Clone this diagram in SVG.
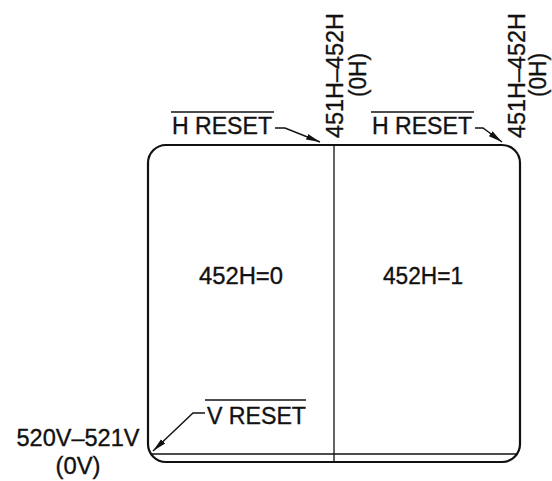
<svg xmlns="http://www.w3.org/2000/svg" width="552" height="481" viewBox="0 0 552 481">
<style>
text{font-family:"Liberation Sans",Arial,sans-serif;font-size:23px;fill:#111;stroke:#111;stroke-width:0.35}
.box{fill:none;stroke:#111;stroke-width:2.2}
.thin{fill:none;stroke:#111;stroke-width:1.3}
.lead{fill:none;stroke:#111;stroke-width:1.4}
.ov{stroke:#111;stroke-width:1.6}
</style>
<defs>
<marker id="ah" markerWidth="16" markerHeight="8" refX="14" refY="4" orient="auto" markerUnits="userSpaceOnUse">
<path d="M0,1 L14,4 L0,7 Z" fill="#111"/>
</marker>
</defs>
<rect width="552" height="481" fill="#fff"/>
<g id="screen">
<rect class="box" x="148" y="145" width="372" height="317" rx="18" ry="18"/>
<line class="thin" x1="334" y1="145" x2="334" y2="462"/>
<line class="thin" x1="151" y1="454" x2="517" y2="454" style="stroke-width:1.6"/>
</g>
<g id="left-half">
<text x="241" y="284" text-anchor="middle" textLength="84" lengthAdjust="spacingAndGlyphs">452H=0</text>
</g>
<g id="right-half">
<text x="423" y="284" text-anchor="middle" textLength="80" lengthAdjust="spacingAndGlyphs">452H=1</text>
</g>
<g id="h-reset-left">
<line class="ov" x1="171" y1="112" x2="274" y2="112"/>
<text x="172" y="134" textLength="100" lengthAdjust="spacingAndGlyphs">H RESET</text>
</g>
<g id="h-reset-right">
<line class="ov" x1="371" y1="112" x2="474" y2="112"/>
<text x="372" y="134" textLength="100" lengthAdjust="spacingAndGlyphs">H RESET</text>
</g>
<g id="label-451-left">
<text transform="translate(343,75.5) rotate(-90)" text-anchor="middle" textLength="125" lengthAdjust="spacingAndGlyphs">451H–452H</text>
<text transform="translate(366,75) rotate(-90)" text-anchor="middle" textLength="44" lengthAdjust="spacingAndGlyphs">(0H)</text>
</g>
<g id="label-451-right">
<text transform="translate(525,75.5) rotate(-90)" text-anchor="middle" textLength="125" lengthAdjust="spacingAndGlyphs">451H–452H</text>
<text transform="translate(546,75) rotate(-90)" text-anchor="middle" textLength="44" lengthAdjust="spacingAndGlyphs">(0H)</text>
</g>
<g id="v-reset">
<line class="ov" x1="205" y1="400" x2="306" y2="400"/>
<text x="207" y="424" textLength="99" lengthAdjust="spacingAndGlyphs">V RESET</text>
</g>
<g id="label-520">
<text x="78" y="446" text-anchor="middle" textLength="123" lengthAdjust="spacingAndGlyphs">520V–521V</text>
<text x="78" y="474" text-anchor="middle" textLength="45" lengthAdjust="spacingAndGlyphs">(0V)</text>
</g>
<g id="connectors">
<path class="lead" d="M275,128 L285,128 L320,142" marker-end="url(#ah)"/>
<path class="lead" d="M475,128 L483,128 L502,142" marker-end="url(#ah)"/>
<path class="lead" d="M205,413 L193,413 L153,451" marker-end="url(#ah)"/>
</g>
</svg>
